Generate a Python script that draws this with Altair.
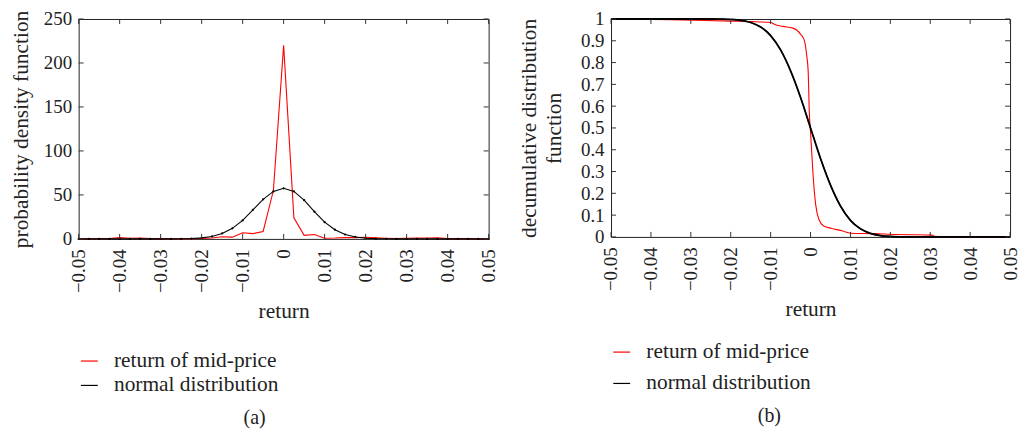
import altair as alt
import pandas as pd

# ---------------- data ----------------
# (a) probability density, sampled every 0.0025 from -0.05 to 0.05
PDF_X = [round(-0.05 + 0.0025 * i, 4) for i in range(41)]
PDF_RED = [0.3, 0.2, 0.3, 0.5, 1.5, 0.8, 1.0, 0.5, 0.3, 0.2,
           0.2, 0.3, 0.5, 1.0, 2.5, 2.0, 7.0, 6.0, 8.5, 55.0,
           220.0, 24.0, 4.0, 5.0, 0.8, 1.0, 1.5, 1.5, 1.8, 1.2,
           0.8, 0.5, 0.8, 1.0, 1.0, 1.2, 0.4, 0.3, 0.3, 0.2, 0.2]
PDF_BLACK = [0, 0, 0, 0, 0, 0, 0, 0, 0, 0,
             0.1, 0.4, 1.2, 2.8, 6.2, 12.0, 21.0, 33.0, 45.0, 54.0,
             57.5, 54.0, 44.0, 31.0, 19.0, 10.5, 5.0, 2.2, 0.8, 0.3,
             0.1, 0, 0, 0, 0, 0, 0, 0, 0, 0, 0]

# (b) decumulative distribution
CDF_RED_X = [-0.05, -0.035, -0.02, -0.015, -0.01, -0.009, -0.007, -0.0044,
             -0.0024, -0.0015, -0.001, -0.0006, -0.0003, 0.0, 0.0003, 0.0007,
             0.0013, 0.0021, 0.0033, 0.0053, 0.0081, 0.0093, 0.01, 0.0158,
             0.0215, 0.025, 0.0305, 0.031, 0.033, 0.05]
CDF_RED_Y = [1.0, 0.997, 0.99, 0.988, 0.984, 0.975, 0.966, 0.958,
             0.928, 0.898, 0.838, 0.763, 0.568, 0.48, 0.387, 0.267,
             0.147, 0.08, 0.05, 0.039, 0.027, 0.02, 0.017, 0.015,
             0.011, 0.01, 0.008, 0.003, 0.0, 0.0]
CDF_BLACK_X = PDF_X
CDF_BLACK_Y = [1, 1, 1, 1, 1, 1, 1, 1, 1, 1,
               1, 0.9995, 0.998, 0.994, 0.984, 0.963, 0.924, 0.858, 0.762, 0.64,
               0.5, 0.36, 0.238, 0.142, 0.076, 0.037, 0.016, 0.006, 0.002, 0.0005,
               0, 0, 0, 0, 0, 0, 0, 0, 0, 0, 0]

X_TICKS = [-0.05, -0.04, -0.03, -0.02, -0.01, 0.0, 0.01, 0.02, 0.03, 0.04, 0.05]
Y_TICKS_A = [0, 50, 100, 150, 200, 250]
Y_TICKS_B = [0, 0.1, 0.2, 0.3, 0.4, 0.5, 0.6, 0.7, 0.8, 0.9, 1.0]
SERIES = ["return of mid-price", "normal distribution"]
COLORS = ["#ff0000", "#000000"]

FONT = "Liberation Serif"
LFS = 19     # tick labels
TFS = 21.5   # titles, legend


def build_panel(red_x, red_y, blk_x, blk_y, yticks, ydom, ytitle, caption,
                W, H, interp, with_points, thick_black, legend_y, row_pad,
                title_pad, cap_offset):
    df = pd.concat([
        pd.DataFrame({"x": red_x, "y": red_y, "series": SERIES[0]}),
        pd.DataFrame({"x": blk_x, "y": blk_y, "series": SERIES[1]}),
    ])
    xscale = alt.Scale(domain=[-0.05, 0.05], nice=False, zero=False)
    yscale = alt.Scale(domain=ydom, nice=False, zero=False)
    xaxis = alt.Axis(values=X_TICKS, format="~r", labelAngle=-90, title="return",
                     ticks=False, domain=False, grid=False, labelPadding=10,
                     titlePadding=8)
    yaxis = alt.Axis(values=yticks, format="~r", title=ytitle, ticks=False,
                     domain=False, grid=False, labelPadding=7,
                     titlePadding=title_pad, titleLineHeight=25)
    X = alt.X("x:Q", scale=xscale, axis=xaxis)
    Y = alt.Y("y:Q", scale=yscale, axis=yaxis)

    lines = alt.Chart(df).mark_line(interpolate=interp, strokeWidth=1.1).encode(
        x=X, y=Y,
        color=alt.Color("series:N",
                        scale=alt.Scale(domain=SERIES, range=COLORS),
                        sort=SERIES,
                        legend=alt.Legend(title=None, orient="none",
                                          legendX=0, legendY=legend_y,
                                          symbolType="stroke", symbolSize=289,
                                          symbolStrokeWidth=1.2,
                                          labelFont=FONT, labelFontSize=TFS,
                                          labelColor="#222", labelOffset=14,
                                          labelLimit=0, rowPadding=row_pad)),
        order=alt.Order("x:Q"),
    )
    layers = [lines]
    blk = pd.DataFrame({"x": blk_x, "y": blk_y})
    if thick_black:
        layers.append(alt.Chart(blk).mark_line(
            interpolate=interp, strokeWidth=1.8, color="black").encode(
            x=X, y=Y, order=alt.Order("x:Q")))
    if with_points:
        layers.append(alt.Chart(blk).mark_point(
            filled=True, size=5, color="black", opacity=1).encode(x=X, y=Y))

    xt = pd.DataFrame({"x": X_TICKS})
    yt = pd.DataFrame({"y": yticks})
    tick_b = alt.Chart(xt).mark_rule(color="#333").encode(
        x=X, y=alt.value(H), y2=alt.value(H - 5))
    tick_t = alt.Chart(xt).mark_rule(color="#333").encode(
        x=X, y=alt.value(0), y2=alt.value(5))
    tick_l = alt.Chart(yt).mark_rule(color="#333").encode(
        y=Y, x=alt.value(0), x2=alt.value(5))
    tick_r = alt.Chart(yt).mark_rule(color="#333").encode(
        y=Y, x=alt.value(W - 5), x2=alt.value(W))
    layers += [tick_b, tick_t, tick_l, tick_r]

    return alt.layer(*layers).properties(
        width=W, height=H,
        title=alt.TitleParams(caption, orient="bottom", anchor="middle",
                              frame="bounds", font=FONT, fontSize=20,
                              fontWeight="normal", color="#222",
                              offset=cap_offset),
    )


left = build_panel(PDF_X, PDF_RED, PDF_X, PDF_BLACK, Y_TICKS_A, [0, 250],
                   "probability density function", "(a)", 412, 221,
                   "linear", True, False, 333, 1.5, 11, 12)
right = build_panel(CDF_RED_X, CDF_RED_Y, CDF_BLACK_X, CDF_BLACK_Y, Y_TICKS_B,
                    [0, 1], ["decumulative distribution", "function"], "(b)",
                    401, 219, "monotone", False, True, 324, 8.5, 15, 12)

chart = alt.hconcat(left, right, spacing=18).resolve_scale(
    color="independent").resolve_legend(color="independent").properties(
    padding={"left": 1, "top": 0, "right": 0, "bottom": 0}
).configure_view(stroke="#222", strokeWidth=1).configure_axis(
    labelFont=FONT, labelFontSize=LFS, labelColor="#222",
    titleFont=FONT, titleFontSize=TFS, titleColor="#222", titleFontWeight="normal",
).configure_title(font=FONT)

chart.save("out.html", embed_options={"renderer": "svg", "actions": False})
